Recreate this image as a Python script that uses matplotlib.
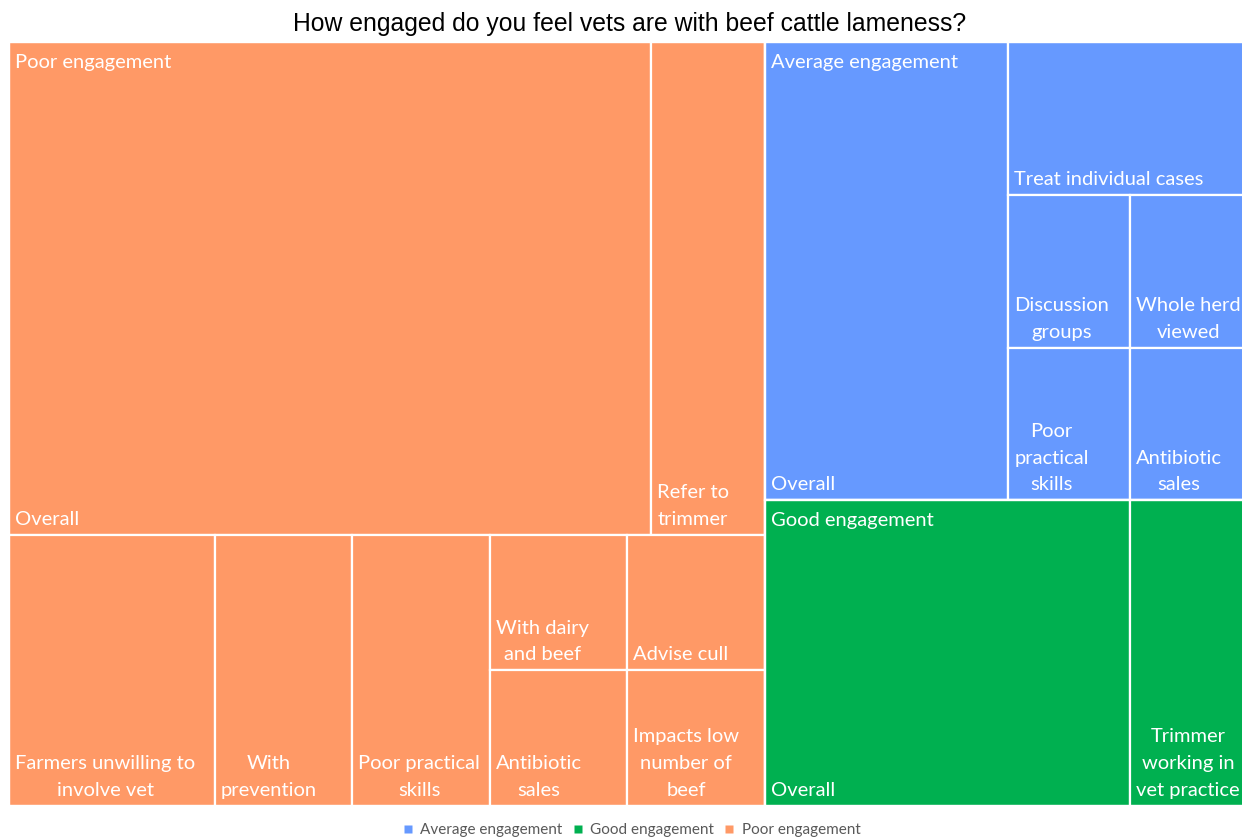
import matplotlib
matplotlib.use("Agg")
import matplotlib.pyplot as plt
from matplotlib.patches import Rectangle
from matplotlib.lines import Line2D

# ---- data -------------------------------------------------------------
title = "How engaged do you feel vets are with beef cattle lameness?"

group_names = ["Poor engagement", "Average engagement", "Good engagement"]

poor_labels = ["Overall", "Refer to\ntrimmer", "Farmers unwilling to\ninvolve vet",
               "With\nprevention", "Poor practical\nskills", "With dairy\nand beef",
               "Antibiotic\nsales", "Advise cull", "Impacts low\nnumber of\nbeef"]
poor_values = [17, 3, 3, 2, 2, 1, 1, 1, 1]

average_labels = ["Overall", "Treat individual cases", "Discussion\ngroups",
                  "Whole herd\nviewed", "Poor\npractical\nskills", "Antibiotic\nsales"]
average_values = [6, 2, 1, 1, 1, 1]

good_labels = ["Overall", "Trimmer\nworking in\nvet practice"]
good_values = [6, 2]

legend_order = ["Average engagement", "Good engagement", "Poor engagement"]

# ---- styling ----------------------------------------------------------
colors = {"Poor engagement": "#FF9966",
          "Average engagement": "#6699FF",
          "Good engagement": "#00B050"}
label_font = "Lato"

# number of items placed in each strip of the layout
group_strips = [1, 1, 1]
strips = {"Poor engagement": [2, 1, 1, 1, 2, 1, 1],
          "Average engagement": [1, 1, 2, 1, 1],
          "Good engagement": [1, 1]}


def strip_layout(values, x0, y0, w, h, plan):
    """Place values as strips; each strip runs along the shorter side."""
    rects = []
    i = 0
    remaining = float(sum(values))
    for n in plan:
        chunk = values[i:i + n]
        s = float(sum(chunk))
        if w >= h:
            cw = w * s / remaining
            yy = y0
            for v in chunk:
                ch = h * v / s
                rects.append((x0, yy, cw, ch))
                yy += ch
            x0 += cw
            w -= cw
        else:
            rh = h * s / remaining
            xx = x0
            for v in chunk:
                rw = w * v / s
                rects.append((xx, y0, rw, rh))
                xx += rw
            y0 += rh
            h -= rh
        remaining -= s
        i += n
    return rects


FW, FH = 1242, 839
fig = plt.figure(figsize=(FW / 100, FH / 100), dpi=100)
fig.patch.set_facecolor("white")

# plotting area (pixel units inside the axes); it runs past the right edge
left_px, top_px, W, H = 9, 42, 1243, 764
ax = fig.add_axes([left_px / FW, 1 - (top_px + H) / FH, W / FW, H / FH])
ax.set_xlim(0, W)
ax.set_ylim(H, 0)
ax.axis("off")

data = {"Poor engagement": (poor_labels, poor_values),
        "Average engagement": (average_labels, average_values),
        "Good engagement": (good_labels, good_values)}

totals = [sum(data[g][1]) for g in group_names]
group_rects = strip_layout(totals, 0, 0, W, H, group_strips)

for g, (gx, gy, gw, gh) in zip(group_names, group_rects):
    labels, values = data[g]
    leaf_rects = strip_layout(values, gx, gy, gw, gh, strips[g])
    for lab, (x, y, w, h) in zip(labels, leaf_rects):
        ax.add_patch(Rectangle((x, y), w, h, facecolor=colors[g],
                               edgecolor="white", linewidth=1.6))
        ax.text(x + 6, y + h - 7, lab, ha="left", va="bottom",
                multialignment="center", color="white",
                fontsize=14.5, family=label_font, linespacing=1.7)
    ax.add_patch(Rectangle((gx, gy), gw, gh, facecolor="none",
                           edgecolor="white", linewidth=1.6))
    ax.text(gx + 6, gy + 12, g, ha="left", va="top", color="white",
            fontsize=14.5, family=label_font)

fig.text(630 / FW, 1 - 31 / FH, title, ha="center", va="baseline",
         fontsize=17.8, family="Liberation Sans", color="black")

handles = [Line2D([], [], linestyle="none", marker="s", markersize=5.5,
                  markerfacecolor=colors[g], markeredgecolor="none")
           for g in legend_order]
fig.legend(handles, legend_order, loc="center", ncol=3, frameon=False,
           bbox_to_anchor=(632 / FW, 1 - 830 / FH), handlelength=0.6,
           handletextpad=0.5, columnspacing=0.7,
           prop={"family": label_font, "size": 11}, labelcolor="#595959")

fig.savefig("out.png", dpi=100, facecolor="white")
